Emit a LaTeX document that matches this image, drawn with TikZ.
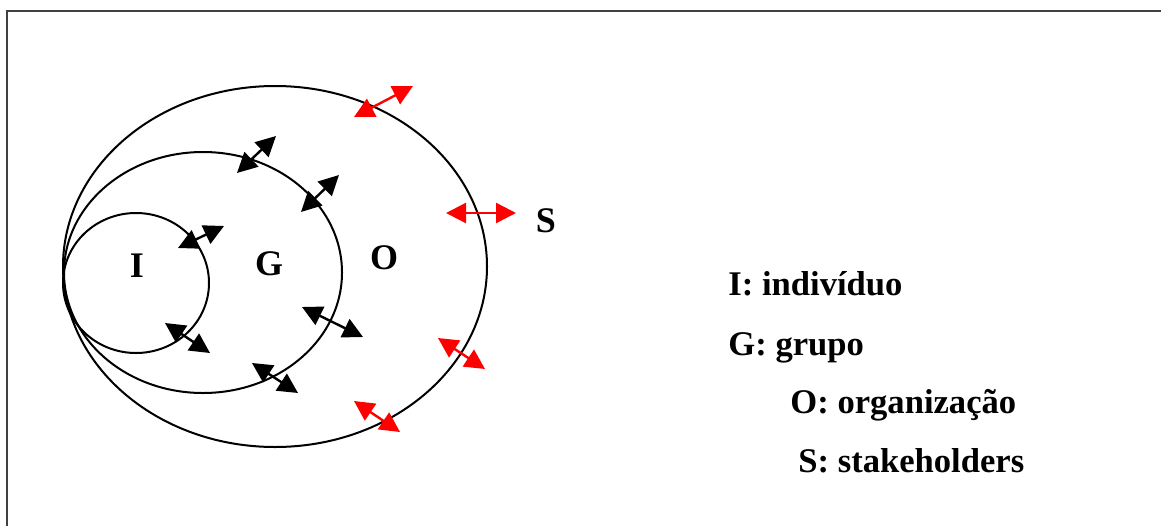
\documentclass[tikz,border=0pt]{standalone}
\usepackage{fontspec}
\setmainfont{Liberation Serif}
\usetikzlibrary{arrows.meta}
\tikzset{
    lbl/.style={font=\fontsize{18}{20}\selectfont\bfseries, inner sep=0pt},
    legend/.style={lbl, font=\fontsize{17.3}{20}\selectfont\bfseries, anchor=base west},
    swap/.style={{Triangle[length=10pt,width=10pt]}-{Triangle[length=10pt,width=10pt]}, line width=1.2pt},
}
\begin{document}
\begin{tikzpicture}[x=0.5pt,y=-0.5pt]
    \useasboundingbox (0,0) rectangle (1161,525);
    % frame
    \draw[line width=1pt, black!75] (7,530) -- (7,11) -- (1165,11);
    % nested sets
    \draw[line width=1pt] (275,266.5) ellipse [x radius=212, y radius=180.5];
    \draw[line width=1pt] (203,272.5) ellipse [x radius=139, y radius=120.5];
    \draw[line width=1pt] (136,283) ellipse [x radius=73, y radius=70];
    \node[lbl] (I) at (137,266) {I};
    \node[lbl] (G) at (269,264) {G};
    \node[lbl] (O) at (384,258) {O};
    \node[lbl] (S) at (546,221) {S};
    % exchanges inside
    \foreach \n/\ax/\ay/\bx/\by in {1/237/173/276/136, 2/301/212/339/175, 3/178/248/224/226,
                                    4/165/323/210/353, 5/302/307/363/337, 6/252/363/298/393} {
        \coordinate (ba\n) at (\ax,\ay);
        \coordinate (bb\n) at (\bx,\by);
        \draw[swap] (ba\n) -- (bb\n);
    }
    % exchanges with stakeholders
    \foreach \n/\ax/\ay/\bx/\by in {1/354/117/413/86, 2/446/213/516/213,
                                    3/438/338/485/369, 4/354/401/400/432} {
        \coordinate (ra\n) at (\ax,\ay);
        \coordinate (rb\n) at (\bx,\by);
        \draw[swap, red] (ra\n) -- (rb\n);
    }
    % legend
    \node[legend] (legI) at (728,295) {I: indivíduo};
    \node[legend] (legG) at (728,355) {G: grupo};
    \node[legend] (legO) at (790,413) {O: organização};
    \node[legend] (legS) at (798,472) {S: stakeholders};
\end{tikzpicture}
\end{document}
